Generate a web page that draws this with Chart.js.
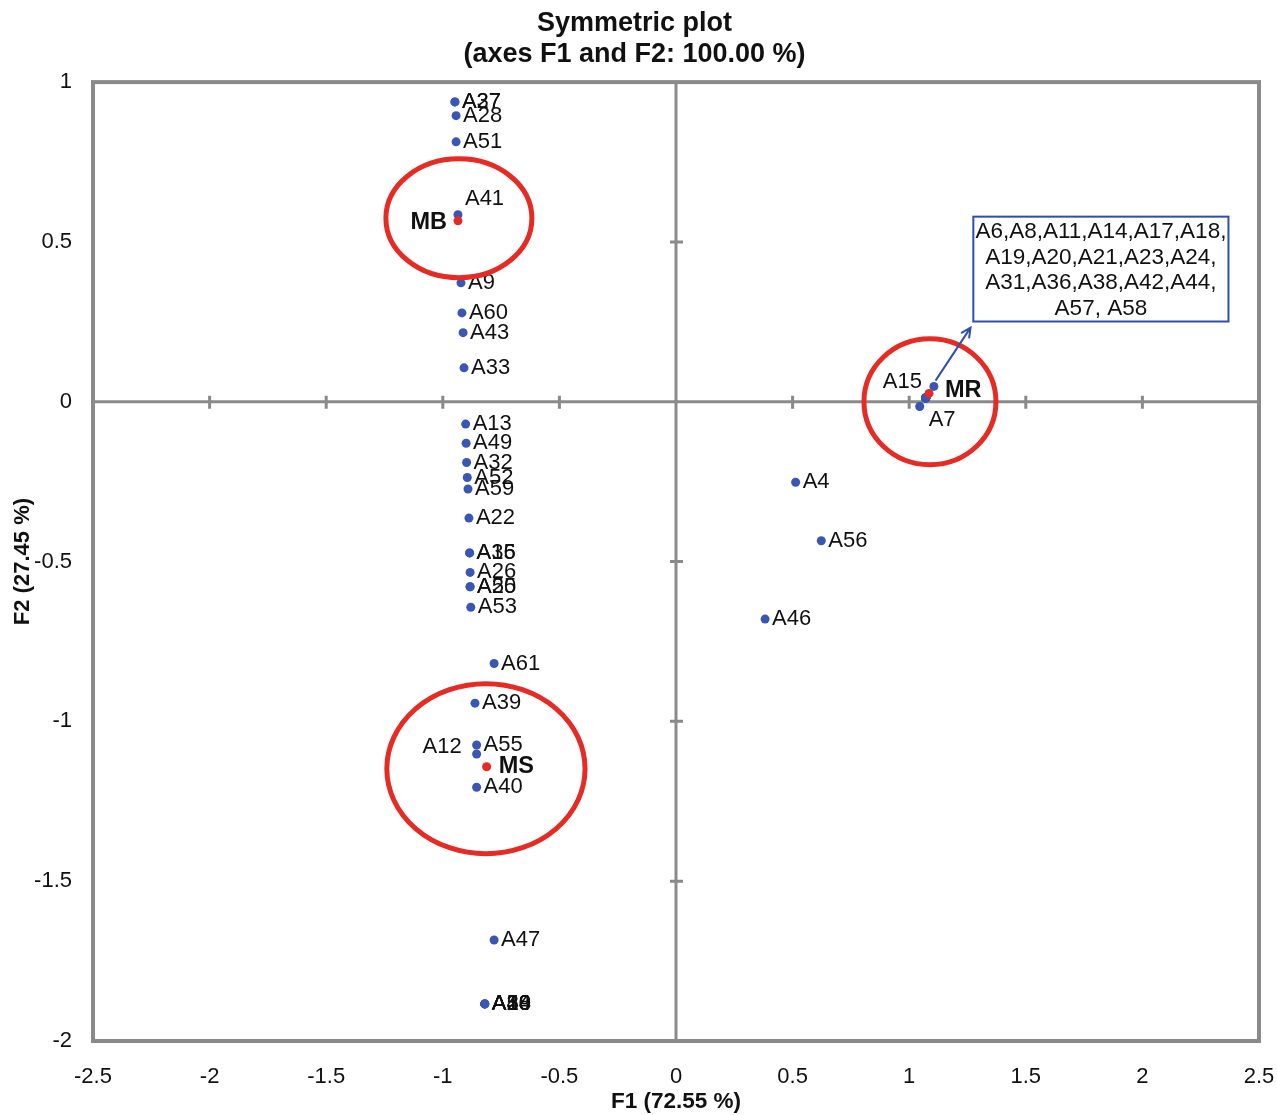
<!DOCTYPE html>
<html>
<head>
<meta charset="utf-8">
<script src="https://cdn.jsdelivr.net/npm/chart.js@4.4.1/dist/chart.umd.min.js"></script>
<style>
  html, body { margin: 0; padding: 0; background: #fff; }
  #plot { display: block; }
</style>
</head>
<body>
<canvas id="plot" width="1277" height="1115"></canvas>
<script>
// isolates (blue points)
const isolateNames = ['A27', 'A37', 'A28', 'A51', 'A41', 'A9', 'A60', 'A43', 'A33',
  'A13', 'A49', 'A32', 'A52', 'A59', 'A22', 'A16', 'A35', 'A26', 'A25', 'A50', 'A53',
  'A61', 'A39', 'A55', 'A12', 'A40', 'A47', 'A29', 'A30', 'A10', 'A48', 'A54',
  'A4', 'A56', 'A46', 'A15', 'A7'];
const isolateF1 = [-0.948, -0.948, -0.943, -0.943, -0.935, -0.922, -0.918, -0.913, -0.909,
  -0.902, -0.900, -0.898, -0.895, -0.892, -0.888, -0.885, -0.885, -0.883, -0.883, -0.883, -0.880,
  -0.780, -0.862, -0.855, -0.855, -0.855, -0.780, -0.820, -0.820, -0.820, -0.820, -0.820,
  0.513, 0.623, 0.382, 1.106, 1.045];
const isolateF2 = [0.938, 0.938, 0.895, 0.813, 0.585, 0.372, 0.278, 0.216, 0.106,
  -0.070, -0.130, -0.190, -0.237, -0.273, -0.364, -0.473, -0.473, -0.534, -0.579, -0.579, -0.643,
  -0.819, -0.943, -1.074, -1.102, -1.206, -1.684, -1.884, -1.884, -1.884, -1.884, -1.884,
  -0.252, -0.435, -0.680, 0.048, -0.015];

// isolates sitting on one spot next to MR (listed in the box)
const mrIsolates = ['A6', 'A8', 'A11', 'A14', 'A17', 'A18', 'A19', 'A20', 'A21',
  'A23', 'A24', 'A31', 'A36', 'A38', 'A42', 'A44', 'A57', 'A58'];
const mrIsolatesF1 = 1.071;
const mrIsolatesF2 = 0.012;
const boxLines = ['A6,A8,A11,A14,A17,A18,', 'A19,A20,A21,A23,A24,', 'A31,A36,A38,A42,A44,', 'A57, A58'];

// groups (red points)
const groupNames = ['MB', 'MS', 'MR'];
const groupF1 = [-0.935, -0.812, 1.085];
const groupF2 = [0.566, -1.142, 0.026];

const xTickValues = [-2.5, -2, -1.5, -1, -0.5, 0, 0.5, 1, 1.5, 2, 2.5];
const yTickValues = [-2, -1.5, -1, -0.5, 0, 0.5, 1];

const FONT = "'Liberation Sans', Arial, sans-serif";
const BLUE = '#3a56b5';
const RED = '#e62a24';
const GRAY = '#8a8a8a';

// label placement: side, dx, dy (pixels), default is right of point
const labelPlace = {
  A41: { side: 'right', dx: 7, dy: -16 },
  A12: { side: 'left', dx: 15, dy: -7 },
  A15: { side: 'left', dx: 12, dy: -4 },
  A7: { side: 'right', dx: 9, dy: 13 },
  MB: { side: 'left', dx: 11, dy: 2 },
  MS: { side: 'right', dx: 12, dy: 0 },
  MR: { side: 'right', dx: 16, dy: -3 }
};

// red circles around groups, in data units
const rings = [
  { cx: -0.931, cy: 0.574, rx: 0.313, ry: 0.186 },
  { cx: -0.815, cy: -1.148, rx: 0.425, ry: 0.266 },
  { cx: 1.089, cy: 0.0, rx: 0.283, ry: 0.197 }
];
const box = { left: 1.275, right: 2.369, top: 0.579, bottom: 0.251 };
const arrow = { x1: 1.113, y1: 0.066, x2: 1.263, y2: 0.232 };

const isolatePoints = isolateNames.map((n, i) => ({ x: isolateF1[i], y: isolateF2[i], name: n }));
const mrPoints = mrIsolates.map(n => ({ x: mrIsolatesF1, y: mrIsolatesF2, name: '' }));
const groupPoints = groupNames.map((n, i) => ({ x: groupF1[i], y: groupF2[i], name: n }));

const decor = {
  id: 'decor',
  beforeDatasetsDraw(chart) {
    const { ctx, chartArea: a, scales: { x, y } } = chart;
    ctx.save();
    // frame
    ctx.strokeStyle = GRAY;
    ctx.lineWidth = 4;
    ctx.strokeRect(a.left, a.top, a.right - a.left, a.bottom - a.top);
    // zero axes
    const x0 = x.getPixelForValue(0);
    const y0 = y.getPixelForValue(0);
    ctx.lineWidth = 3;
    ctx.beginPath();
    ctx.moveTo(a.left, y0); ctx.lineTo(a.right, y0);
    ctx.moveTo(x0, a.top); ctx.lineTo(x0, a.bottom);
    ctx.stroke();
    // small ticks on zero axes
    ctx.beginPath();
    xTickValues.forEach(v => {
      if (v === 0 || v === x.min || v === x.max) return;
      const px = x.getPixelForValue(v);
      ctx.moveTo(px, y0 - 6); ctx.lineTo(px, y0 + 7);
    });
    yTickValues.forEach(v => {
      if (v === 0 || v === y.min || v === y.max) return;
      const py = y.getPixelForValue(v);
      ctx.moveTo(x0 - 6, py); ctx.lineTo(x0 + 7, py);
    });
    ctx.stroke();
    ctx.restore();
  },
  afterDatasetsDraw(chart) {
    const { ctx, scales: { x, y } } = chart;
    ctx.save();
    // point labels
    ctx.textBaseline = 'middle';
    ctx.fillStyle = '#111';
    chart.data.datasets.forEach((ds, di) => {
      const meta = chart.getDatasetMeta(di);
      ds.data.forEach((p, i) => {
        if (!p.name) return;
        const el = meta.data[i];
        const pl = labelPlace[p.name] || { side: 'right', dx: 7, dy: 0 };
        const bold = groupNames.includes(p.name);
        ctx.font = bold ? 'bold 23.5px ' + FONT : '22px ' + FONT;
        ctx.textAlign = pl.side === 'left' ? 'right' : 'left';
        const tx = pl.side === 'left' ? el.x - pl.dx : el.x + pl.dx;
        ctx.fillText(p.name, tx, el.y + pl.dy);
      });
    });
    // red rings
    ctx.strokeStyle = RED;
    ctx.lineWidth = 5;
    rings.forEach(r => {
      const cx = x.getPixelForValue(r.cx);
      const cy = y.getPixelForValue(r.cy);
      const rx = Math.abs(x.getPixelForValue(r.cx + r.rx) - cx);
      const ry = Math.abs(y.getPixelForValue(r.cy + r.ry) - cy);
      ctx.beginPath();
      ctx.ellipse(cx, cy, rx, ry, 0, 0, Math.PI * 2);
      ctx.stroke();
    });
    // box with isolate list
    const bl = x.getPixelForValue(box.left), br = x.getPixelForValue(box.right);
    const bt = y.getPixelForValue(box.top), bb = y.getPixelForValue(box.bottom);
    ctx.fillStyle = '#fff';
    ctx.fillRect(bl, bt, br - bl, bb - bt);
    ctx.strokeStyle = '#2f4fae';
    ctx.lineWidth = 2;
    ctx.strokeRect(bl, bt, br - bl, bb - bt);
    ctx.fillStyle = '#111';
    ctx.font = '22.5px ' + FONT;
    ctx.textAlign = 'center';
    ctx.textBaseline = 'middle';
    const lh = 25.5;
    const midY = (bt + bb) / 2;
    boxLines.forEach((t, i) => {
      ctx.fillText(t, (bl + br) / 2, midY + (i - (boxLines.length - 1) / 2) * lh + 1);
    });
    // arrow
    const ax1 = x.getPixelForValue(arrow.x1), ay1 = y.getPixelForValue(arrow.y1);
    const ax2 = x.getPixelForValue(arrow.x2), ay2 = y.getPixelForValue(arrow.y2);
    ctx.strokeStyle = '#2f4fae';
    ctx.lineWidth = 2;
    ctx.beginPath();
    ctx.moveTo(ax1, ay1); ctx.lineTo(ax2, ay2);
    const ang = Math.atan2(ay2 - ay1, ax2 - ax1);
    const hl = 11;
    ctx.moveTo(ax2 - hl * Math.cos(ang - 0.45), ay2 - hl * Math.sin(ang - 0.45));
    ctx.lineTo(ax2, ay2);
    ctx.lineTo(ax2 - hl * Math.cos(ang + 0.45), ay2 - hl * Math.sin(ang + 0.45));
    ctx.stroke();
    ctx.restore();
  }
};

new Chart(document.getElementById('plot').getContext('2d'), {
  type: 'scatter',
  data: {
    datasets: [
      { label: 'groups', data: groupPoints, backgroundColor: RED, borderWidth: 0, pointRadius: 4.5 },
      { label: 'isolates', data: isolatePoints, backgroundColor: BLUE, borderWidth: 0, pointRadius: 4.5 },
      { label: 'MR isolates', data: mrPoints, backgroundColor: BLUE, borderWidth: 0, pointRadius: 4.5 }
    ]
  },
  options: {
    responsive: false,
    animation: false,
    layout: { padding: { left: 10, right: 18, top: 0, bottom: 0 } },
    plugins: {
      legend: { display: false },
      tooltip: { enabled: false },
      title: {
        display: true,
        text: ['Symmetric plot', '(axes F1 and F2: 100.00 %)'],
        color: '#111',
        font: { family: FONT, size: 27, weight: 'bold', lineHeight: 1.15 },
        padding: { top: 8, bottom: 12 }
      }
    },
    scales: {
      x: {
        type: 'linear',
        min: -2.5,
        max: 2.5,
        afterBuildTicks: s => { s.ticks = xTickValues.map(v => ({ value: v })); },
        afterFit: s => { s.height = 74; s.paddingRight = 15; },
        grid: { display: false, drawTicks: false },
        border: { display: false },
        ticks: { padding: 23, color: '#111', font: { family: FONT, size: 22 }, callback: v => String(v) },
        title: {
          display: true,
          text: 'F1 (72.55 %)',
          color: '#111',
          font: { family: FONT, size: 22.5, weight: 'bold' },
          padding: { top: 0, bottom: 0 }
        }
      },
      y: {
        type: 'linear',
        min: -2,
        max: 1,
        afterBuildTicks: s => { s.ticks = yTickValues.map(v => ({ value: v })); },
        afterFit: s => { s.width = 83; },
        grid: { display: false, drawTicks: false },
        border: { display: false },
        ticks: { padding: 21, color: '#111', font: { family: FONT, size: 22 }, callback: v => String(v) },
        title: {
          display: true,
          text: 'F2 (27.45 %)',
          color: '#111',
          font: { family: FONT, size: 22, weight: 'bold' },
          padding: { top: 0, bottom: 0 }
        }
      }
    }
  },
  plugins: [decor]
});
</script>
</body>
</html>
